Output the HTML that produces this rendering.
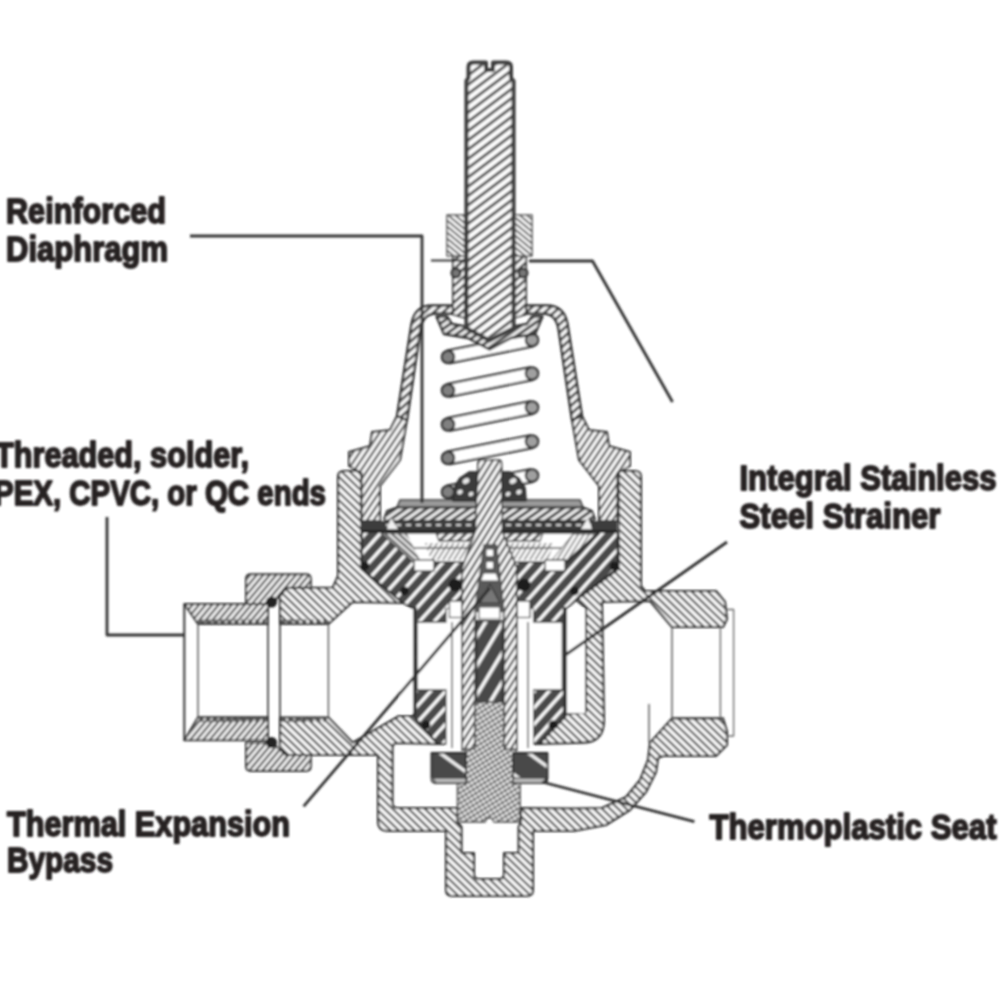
<!DOCTYPE html>
<html><head><meta charset="utf-8"><title>Valve cross-section</title>
<style>
html,body{margin:0;padding:0;background:#fff;}
body{width:1000px;height:1000px;overflow:hidden;font-family:"Liberation Sans",sans-serif;}
svg{display:block;}
text{font-family:"Liberation Sans",sans-serif;font-weight:bold;fill:#262324;stroke:#262324;stroke-width:1.8px;stroke-linejoin:round;}
</style></head><body>
<svg width="1000" height="1000" viewBox="0 0 1000 1000">
<defs>
<filter id="soft" x="0" y="0" width="1000" height="1000" filterUnits="userSpaceOnUse"><feGaussianBlur stdDeviation="0.95"/></filter>
<!-- body hatch "\" -->
<pattern id="hBody" width="10" height="5.6" patternUnits="userSpaceOnUse" patternTransform="rotate(44)"><rect width="10" height="5.6" fill="#fff"/><rect width="10" height="2.2" fill="#4a4a4a"/></pattern>
<!-- bonnet hatch "/" -->
<pattern id="hBon" width="10" height="5.5" patternUnits="userSpaceOnUse" patternTransform="rotate(-56)"><rect width="10" height="5.5" fill="#fff"/><rect width="10" height="2.3" fill="#555"/></pattern>
<!-- stem hatch "/" -->
<pattern id="hStem" width="10" height="7.4" patternUnits="userSpaceOnUse" patternTransform="rotate(-37)"><rect width="10" height="7.4" fill="#fff"/><rect width="10" height="3.0" fill="#555"/></pattern>
<!-- lower stem hatch -->
<pattern id="hStem2" width="10" height="5.6" patternUnits="userSpaceOnUse" patternTransform="rotate(-58)"><rect width="10" height="5.6" fill="#fff"/><rect width="10" height="2.3" fill="#505050"/></pattern>
<!-- dark cartridge -->
<pattern id="hDark" width="10" height="11" patternUnits="userSpaceOnUse" patternTransform="rotate(-48)"><rect width="10" height="11" fill="#4a4a4a"/><rect width="10" height="3.2" fill="#fff"/></pattern>
<pattern id="hDark2" width="10" height="15" patternUnits="userSpaceOnUse" patternTransform="rotate(-59)"><rect width="10" height="15" fill="#4a4a4a"/><rect width="10" height="3.4" fill="#fff"/></pattern>
<!-- cross hatch -->
<pattern id="hX" width="4.4" height="4.4" patternUnits="userSpaceOnUse" patternTransform="rotate(-32)"><rect width="4.4" height="4.4" fill="#fff"/><rect width="4.4" height="1.9" fill="#5a5a5a"/><rect width="1.3" height="4.4" fill="#777"/></pattern>
<!-- light hatch for tailpiece / nut -->
<pattern id="hLight" width="10" height="5.0" patternUnits="userSpaceOnUse" patternTransform="rotate(-50)"><rect width="10" height="5.0" fill="#fff"/><rect width="10" height="2.4" fill="#5a5a5a"/></pattern>
<!-- rope-like thin wall hatch -->
<pattern id="hRope" width="10" height="6.2" patternUnits="userSpaceOnUse" patternTransform="rotate(-42)"><rect width="10" height="6.2" fill="#fff"/><rect width="10" height="3.0" fill="#555"/></pattern>
<pattern id="hNut" width="10" height="4.6" patternUnits="userSpaceOnUse" patternTransform="rotate(40)"><rect width="10" height="4.6" fill="#fff"/><rect width="10" height="2.0" fill="#5c5c5c"/></pattern>
<pattern id="hFine" width="10" height="4.6" patternUnits="userSpaceOnUse" patternTransform="rotate(-58)"><rect width="10" height="4.6" fill="#fff"/><rect width="10" height="1.5" fill="#777"/></pattern>
<pattern id="hDark3" width="10" height="26" patternUnits="userSpaceOnUse" patternTransform="rotate(36)"><rect width="10" height="26" fill="#484848"/><rect y="11" width="10" height="3.2" fill="#f4f4f4"/></pattern>
<pattern id="hDia" width="10" height="6" patternUnits="userSpaceOnUse" patternTransform="rotate(-35)"><rect width="10" height="6" fill="#f4f4f4"/><rect width="10" height="3.1" fill="#4c4c4c"/></pattern>
<pattern id="hFineL" width="10" height="4.6" patternUnits="userSpaceOnUse" patternTransform="rotate(42)"><rect width="10" height="4.6" fill="#eee"/><rect width="10" height="2.2" fill="#555"/></pattern>
</defs>

<rect width="1000" height="1000" fill="#fff"/>
<g filter="url(#soft)">
<path d="M338,477 Q338,471 344,471 L361.5,471 L361.5,569 L403,603 L352.6,602 L328.4,624 L280,624 L280,596 L286,588 L332.8,587.5 L338,576 Z" fill="url(#hBody)" stroke="#2e2e2e" stroke-width="2.1" stroke-linejoin="round" />
<path d="M280,717.5 L328.4,717.5 L352.6,742.6 L399,716 L413,716 L438,744 L397,743 Q392.5,743 392.5,748 L392.5,803 Q392.5,808 398,808 L457.5,808 L457.5,822 L461.5,827 L461.5,853 L474,853 L474,874 Q474,879 479,879 L499,879 Q504,879 504,874 L504,853 L518.6,853 L518.6,827 L521,822 L521,808 L574,808.5 L602,808 L626,797 L640,780 L648,760 L650,742.6 L672,718.4 L723,718.4 L727,731.6 L727,745 L716,756 L663,756 L658,758 L656,772 L646,792 L630,810 L606,825 L574,831 L533,831 L533,890 Q533,896 527,896 L452,896 Q446,896 446,890 L446,831 L388,831 Q378,831 378,821 L378,755 L311,755 L286,755 L280,746 Z" fill="url(#hBody)" stroke="#2e2e2e" stroke-width="2.1" stroke-linejoin="round" />
<path d="M641,477 Q641,471 635,471 L618.5,471 L618.5,569 L576,600 L586,608 L586,712 L566,714 L565,716 L539,744 L584,742.6 Q604,742 604,720 L602,602 L650,601 L672,627 L723,627 L727,619 L725,602 L716,591 L645,591 L641,586 Z" fill="url(#hBody)" stroke="#2e2e2e" stroke-width="2.1" stroke-linejoin="round" />
<path d="M184.3,604 L268,604 L268,624 L198,624 Z" fill="url(#hLight)" stroke="#2e2e2e" stroke-width="1.9" stroke-linejoin="round" />
<path d="M184.3,740.4 L268,740.4 L268,717.3 L198,717.3 Z" fill="url(#hLight)" stroke="#2e2e2e" stroke-width="1.9" stroke-linejoin="round" />
<path d="M199,621.5 L267,621.5" fill="none" stroke="#5a5a5a" stroke-width="4.2" stroke-linejoin="round" stroke-dasharray="4.5 2.5"/>
<path d="M199,720 L267,720" fill="none" stroke="#5a5a5a" stroke-width="4.2" stroke-linejoin="round" stroke-dasharray="4.5 2.5"/>
<path d="M281,621.5 L327,621.5" fill="none" stroke="#5a5a5a" stroke-width="4.2" stroke-linejoin="round" stroke-dasharray="4.5 2.5"/>
<path d="M281,720 L327,720" fill="none" stroke="#5a5a5a" stroke-width="4.2" stroke-linejoin="round" stroke-dasharray="4.5 2.5"/>
<line x1="184.3" y1="604" x2="184.3" y2="740.4" stroke="#333" stroke-width="2.0" stroke-linecap="butt"/>
<line x1="198" y1="624" x2="198" y2="717.3" stroke="#555" stroke-width="1.4" stroke-linecap="butt"/>
<line x1="268" y1="604" x2="268" y2="740.4" stroke="#333" stroke-width="1.6" stroke-linecap="butt"/>
<line x1="280" y1="624" x2="280" y2="717.5" stroke="#333" stroke-width="1.6" stroke-linecap="butt"/>
<line x1="328.4" y1="624" x2="328.4" y2="717.5" stroke="#555" stroke-width="1.4" stroke-linecap="butt"/>
<path d="M246,579 Q246,574.3 251,574.3 L306,574.3 Q310.8,574.3 310.8,579 L310.8,587.5 L286,588 L272,604 L246,604 Z" fill="url(#hLight)" stroke="#2e2e2e" stroke-width="1.9" stroke-linejoin="round" />
<path d="M246,742.6 L272,742.6 L286,755 L310.8,755 L310.8,766 Q310.8,771 306,771 L251,771 Q246,771 246,766 Z" fill="url(#hLight)" stroke="#2e2e2e" stroke-width="1.9" stroke-linejoin="round" />
<circle cx="271.5" cy="602" r="5.6" fill="#222" stroke="none" stroke-width="0"/>
<circle cx="271.5" cy="742.5" r="5.6" fill="#222" stroke="none" stroke-width="0"/>
<line x1="672" y1="627" x2="672" y2="718.4" stroke="#555" stroke-width="1.4" stroke-linecap="butt"/>
<line x1="720.4" y1="627" x2="720.4" y2="718.4" stroke="#666" stroke-width="1.4" stroke-linecap="butt"/>
<path d="M727,609.5 L733.6,609.5 L733.6,736 L727,736" fill="none" stroke="#666" stroke-width="1.3" stroke-linejoin="round" />
<line x1="649" y1="704" x2="649" y2="743" stroke="#555" stroke-width="1.4" stroke-linecap="butt"/>
<path d="M397,416 L390,430 L372,432 L370,446 L349,452 L349,466 L361.5,473 L361.5,521 L380,521 L380,486 L400,460 L407,420 Z" fill="url(#hBon)" stroke="#2e2e2e" stroke-width="2.0" stroke-linejoin="round" />
<path d="M582.0,416 L589.0,430 L607.0,432 L609.0,446 L630.0,452 L630.0,466 L617.5,473 L617.5,521 L599.0,521 L599.0,486 L579.0,460 L572.0,420 Z" fill="url(#hBon)" stroke="#2e2e2e" stroke-width="2.0" stroke-linejoin="round" />
<path d="M453,305.5 L432,305.5 Q415,305.5 411.5,324 L397,416 L407,420 L420.5,329 Q423,313.5 436,313.5 L453,313.5 Z" fill="url(#hRope)" stroke="#2e2e2e" stroke-width="2.4" stroke-linejoin="round" />
<path d="M526.0,305.5 L547.0,305.5 Q564.0,305.5 567.5,324 L582.0,416 L572.0,420 L558.5,329 Q556.0,313.5 543.0,313.5 L526.0,313.5 Z" fill="url(#hRope)" stroke="#2e2e2e" stroke-width="2.4" stroke-linejoin="round" />
<path d="M453,256 L465,256 L465,318 L453,314.5 Z" fill="url(#hRope)" stroke="#2e2e2e" stroke-width="1.8" stroke-linejoin="round" />
<path d="M526.0,256 L514.0,256 L514.0,318 L526.0,314.5 Z" fill="url(#hRope)" stroke="#2e2e2e" stroke-width="1.8" stroke-linejoin="round" />
<path d="M447,215 L465,215 L465,256 L447,256 Z" fill="url(#hNut)" stroke="#555" stroke-width="1.5" stroke-linejoin="round" />
<path d="M532.0,215 L514.0,215 L514.0,256 L532.0,256 Z" fill="url(#hNut)" stroke="#555" stroke-width="1.5" stroke-linejoin="round" />
<circle cx="456" cy="273" r="4.4" fill="#777" stroke="#2e2e2e" stroke-width="2.2"/>
<circle cx="523.0" cy="273" r="4.4" fill="#777" stroke="#2e2e2e" stroke-width="2.2"/>
<path d="M449.3,363.4 L533.3,346.4 L530.7,333.6 L446.7,350.6 Z" fill="#fff" stroke="none" stroke-width="0" stroke-linejoin="round" />
<line x1="449.3" y1="363.4" x2="533.3" y2="346.4" stroke="#3a3a3a" stroke-width="2.4" stroke-linecap="butt"/>
<line x1="446.7" y1="350.6" x2="530.7" y2="333.6" stroke="#3a3a3a" stroke-width="2.4" stroke-linecap="butt"/>
<path d="M449.3,396.9 L533.3,379.9 L530.7,367.1 L446.7,384.1 Z" fill="#fff" stroke="none" stroke-width="0" stroke-linejoin="round" />
<line x1="449.3" y1="396.9" x2="533.3" y2="379.9" stroke="#3a3a3a" stroke-width="2.4" stroke-linecap="butt"/>
<line x1="446.7" y1="384.1" x2="530.7" y2="367.1" stroke="#3a3a3a" stroke-width="2.4" stroke-linecap="butt"/>
<path d="M449.3,430.9 L533.3,413.9 L530.7,401.1 L446.7,418.1 Z" fill="#fff" stroke="none" stroke-width="0" stroke-linejoin="round" />
<line x1="449.3" y1="430.9" x2="533.3" y2="413.9" stroke="#3a3a3a" stroke-width="2.4" stroke-linecap="butt"/>
<line x1="446.7" y1="418.1" x2="530.7" y2="401.1" stroke="#3a3a3a" stroke-width="2.4" stroke-linecap="butt"/>
<path d="M449.3,464.4 L533.3,447.9 L530.7,435.1 L446.7,451.6 Z" fill="#fff" stroke="none" stroke-width="0" stroke-linejoin="round" />
<line x1="449.3" y1="464.4" x2="533.3" y2="447.9" stroke="#3a3a3a" stroke-width="2.4" stroke-linecap="butt"/>
<line x1="446.7" y1="451.6" x2="530.7" y2="435.1" stroke="#3a3a3a" stroke-width="2.4" stroke-linecap="butt"/>
<path d="M449.3,498.4 L533.3,481.9 L530.7,469.1 L446.7,485.6 Z" fill="#fff" stroke="none" stroke-width="0" stroke-linejoin="round" />
<line x1="449.3" y1="498.4" x2="533.3" y2="481.9" stroke="#3a3a3a" stroke-width="2.4" stroke-linecap="butt"/>
<line x1="446.7" y1="485.6" x2="530.7" y2="469.1" stroke="#3a3a3a" stroke-width="2.4" stroke-linecap="butt"/>
<circle cx="448" cy="357" r="6.2" fill="#808080" stroke="#2e2e2e" stroke-width="2.2"/>
<circle cx="448" cy="390.5" r="6.2" fill="#808080" stroke="#2e2e2e" stroke-width="2.2"/>
<circle cx="448" cy="424.5" r="6.2" fill="#808080" stroke="#2e2e2e" stroke-width="2.2"/>
<circle cx="448" cy="458" r="6.2" fill="#808080" stroke="#2e2e2e" stroke-width="2.2"/>
<circle cx="448" cy="492" r="6.2" fill="#808080" stroke="#2e2e2e" stroke-width="2.2"/>
<circle cx="532" cy="340" r="6.2" fill="#a0a0a0" stroke="#2e2e2e" stroke-width="2.2"/>
<circle cx="532" cy="373.5" r="6.2" fill="#a0a0a0" stroke="#2e2e2e" stroke-width="2.2"/>
<circle cx="532" cy="407.5" r="6.2" fill="#a0a0a0" stroke="#2e2e2e" stroke-width="2.2"/>
<circle cx="532" cy="441.5" r="6.2" fill="#a0a0a0" stroke="#2e2e2e" stroke-width="2.2"/>
<circle cx="532" cy="475.5" r="6.2" fill="#a0a0a0" stroke="#2e2e2e" stroke-width="2.2"/>
<path d="M436.5,316.5 L444,334 L468,338 L489.5,349.5 L511,338 L535,334 L542.5,316.5 L532,316.5 L527,324 L511,327 L489.5,338 L468,327 L452,324 L447,316.5 Z" fill="url(#hDia)" stroke="#2e2e2e" stroke-width="2.3" stroke-linejoin="round" />
<path d="M468.5,67 Q468.5,62.5 473,62.5 L486,62.5 L486,70 L493,70 L493,62.5 L506.5,62.5 Q511,62.5 511,67 L511,78 L513.6,81 L513.6,328 L489.5,340.5 L466.4,328 L466.4,81 L468.5,78 Z" fill="url(#hStem)" stroke="#3c3c3c" stroke-width="4.0" stroke-linejoin="round" />
<path d="M362,532 L617.5,532 L617.5,568 L576,600 L566,609 L566,716 L539,744 L533,744 L533,609 L452,609 L446,609 L446,744 L438,744 L413.5,716 L413.5,609 L403,603 L362,569 Z" fill="url(#hDark)" stroke="#2a2a2a" stroke-width="1.8" stroke-linejoin="round" />
<path d="M381,533 L598,533 L566,562 L413,562 Z" fill="#fff" stroke="#333" stroke-width="1.4" stroke-linejoin="round" />
<path d="M436,533 L543,533 L540,541 L439,541 Z" fill="url(#hRope)" stroke="#444" stroke-width="1.3" stroke-linejoin="round" />
<path d="M425,543 L554,543 L548,560 L431,560 Z" fill="url(#hFine)" stroke="none" stroke-width="0" stroke-linejoin="round" />
<line x1="398" y1="548" x2="581" y2="548" stroke="#555" stroke-width="1.3" stroke-linecap="butt"/>
<path d="M383,534 L407,534 L420,560 L412,560 Z" fill="url(#hFineL)" stroke="none" stroke-width="0" stroke-linejoin="round" />
<path d="M573,534 L596,534 L567,560 L552,560 Z" fill="url(#hFine)" stroke="#555" stroke-width="1.0" stroke-linejoin="round" />
<line x1="599" y1="533" x2="566" y2="563" stroke="#333" stroke-width="3.0" stroke-linecap="butt"/>
<rect x="414" y="560" width="20" height="11" rx="0" fill="#fff" stroke="#333" stroke-width="1.2"/>
<rect x="545" y="560" width="20" height="11" rx="0" fill="#fff" stroke="#333" stroke-width="1.2"/>
<rect x="417" y="622" width="34.5" height="68" rx="0" fill="#fff" stroke="#333" stroke-width="1.5"/>
<rect x="528.5" y="622" width="34" height="68" rx="0" fill="#fff" stroke="#333" stroke-width="1.5"/>
<rect x="446.5" y="609" width="17" height="139" rx="0" fill="#fff" stroke="none" stroke-width="1.6"/>
<rect x="516" y="609" width="17" height="139" rx="0" fill="#fff" stroke="none" stroke-width="1.6"/>
<line x1="452" y1="622" x2="452" y2="748" stroke="#444" stroke-width="1.3" stroke-linecap="butt"/>
<line x1="528" y1="622" x2="528" y2="748" stroke="#444" stroke-width="1.3" stroke-linecap="butt"/>
<rect x="449.5" y="601" width="13.5" height="16.5" rx="0" fill="#fff" stroke="#333" stroke-width="1.2"/>
<rect x="516.5" y="601" width="13.5" height="16.5" rx="0" fill="#fff" stroke="#333" stroke-width="1.2"/>
<rect x="400" y="609" width="13.5" height="104" rx="0" fill="#fff" stroke="none" stroke-width="1.6"/>
<rect x="567" y="609" width="18" height="104" rx="0" fill="#fff" stroke="none" stroke-width="1.6"/>
<line x1="415" y1="607" x2="415" y2="716" stroke="#363636" stroke-width="3.6" stroke-linecap="butt"/>
<line x1="564.6" y1="607" x2="564.6" y2="716" stroke="#363636" stroke-width="3.6" stroke-linecap="butt"/>
<circle cx="365" cy="566" r="4.4" fill="#1c1c1c" stroke="none" stroke-width="0"/>
<circle cx="614.0" cy="566" r="4.4" fill="#1c1c1c" stroke="none" stroke-width="0"/>
<circle cx="404.5" cy="591" r="4.4" fill="#1c1c1c" stroke="none" stroke-width="0"/>
<circle cx="574.5" cy="591" r="4.4" fill="#1c1c1c" stroke="none" stroke-width="0"/>
<circle cx="426" cy="725" r="4.4" fill="#1c1c1c" stroke="none" stroke-width="0"/>
<circle cx="553.0" cy="725" r="4.4" fill="#1c1c1c" stroke="none" stroke-width="0"/>
<circle cx="455" cy="585" r="6.5" fill="#1c1c1c" stroke="none" stroke-width="0"/>
<circle cx="524.0" cy="585" r="6.5" fill="#1c1c1c" stroke="none" stroke-width="0"/>
<path d="M400,500 L580,500 L583,507.5 L397,507.5 Z" fill="#9a9a9a" stroke="#333" stroke-width="1.6" stroke-linejoin="round" />
<path d="M384,519 L387,511 L397,507.5 L583,507.5 L592,511 L595,519 L592,521 L387,521 Z" fill="url(#hDia)" stroke="#2e2e2e" stroke-width="2.0" stroke-linejoin="round" />
<path d="M362,525.5 L617,525.5" fill="none" stroke="#3c3c3c" stroke-width="9" stroke-linejoin="round" />
<path d="M386,525 L593,525" fill="none" stroke="#cfcfcf" stroke-width="2.2" stroke-linejoin="round" stroke-dasharray="5 5"/>
<path d="M391,518 L398,529 L387,529 Z" fill="#f2f2f2" stroke="none" stroke-width="0" stroke-linejoin="round" />
<path d="M588.0,518 L581.0,529 L592.0,529 Z" fill="#f2f2f2" stroke="none" stroke-width="0" stroke-linejoin="round" />
<path d="M362,531 L617,531" fill="none" stroke="#262626" stroke-width="2.6" stroke-linejoin="round" />
<path d="M453,500 L454,488 L460,478 L469,472 L478,472 L478,501 L453,501 Z" fill="#3a3a3a" stroke="#2a2a2a" stroke-width="1.5" stroke-linejoin="round" />
<path d="M526.0,500 L525.0,488 L519.0,478 L510.0,472 L501.0,472 L501.0,501 L526.0,501 Z" fill="#3a3a3a" stroke="#2a2a2a" stroke-width="1.5" stroke-linejoin="round" />
<ellipse cx="460" cy="492" rx="2.8" ry="2.2" fill="#e8e8e8" transform="rotate(-30 460 492)"/>
<ellipse cx="466" cy="481" rx="3.6" ry="2.6" fill="#e8e8e8" transform="rotate(-30 466 481)"/>
<ellipse cx="471" cy="494" rx="2.6" ry="2.0" fill="#e8e8e8" transform="rotate(-30 471 494)"/>
<ellipse cx="519" cy="492" rx="2.8" ry="2.2" fill="#e8e8e8" transform="rotate(-30 519 492)"/>
<ellipse cx="513" cy="481" rx="3.6" ry="2.6" fill="#e8e8e8" transform="rotate(-30 513 481)"/>
<ellipse cx="508" cy="494" rx="2.6" ry="2.0" fill="#e8e8e8" transform="rotate(-30 508 494)"/>
<path d="M478,463 Q478,460 481,460 L498.5,460 Q501.5,460 501.5,463 L502.6,532 L517,568 L517,750 L504,750 L504,612 L496,545 L484,545 L475,612 L475,750 L462,750 L462,568 L475,532 Z" fill="url(#hStem2)" stroke="#333" stroke-width="1.6" stroke-linejoin="round" />
<path d="M484,545 L496,545 L504,612 L475,612 Z" fill="#5a5a5a" stroke="none" stroke-width="0" stroke-linejoin="round" />
<rect x="486" y="549" width="7.5" height="7.5" rx="0" fill="#fff" stroke="#444" stroke-width="1"/>
<rect x="486" y="561.5" width="7.5" height="7.5" rx="0" fill="#fff" stroke="#444" stroke-width="1"/>
<path d="M483.5,573 L496,573 L499,581 L480.5,581 Z" fill="#fff" stroke="#444" stroke-width="1" stroke-linejoin="round" />
<path d="M490,584 L500,603 L480,603 Z" fill="#777" stroke="#333" stroke-width="1.2" stroke-linejoin="round" />
<path d="M479,607 L500,607 L500,619 L479,619 Z" fill="#fff" stroke="#444" stroke-width="1.2" stroke-linejoin="round" />
<path d="M476.5,621 L502.5,621 L502.5,702 L476.5,702 Z" fill="url(#hDark2)" stroke="#2a2a2a" stroke-width="1.6" stroke-linejoin="round" />
<path d="M475,702 L504,702 L504,749 L515,749 L515,783 L520,783 L520,822 L494,822 L492,818 L487,818 L485,822 L457.5,822 L457.5,783 L466,783 L466,749 L475,749 Z" fill="url(#hX)" stroke="#444" stroke-width="1.5" stroke-linejoin="round" />
<path d="M431.5,753 L466,753 L466,783 L436,783 Q431.5,783 431.5,778 Z" fill="url(#hDark3)" stroke="#2a2a2a" stroke-width="1.8" stroke-linejoin="round" />
<path d="M547.5,753 L513.0,753 L513.0,783 L543.0,783 Q547.5,783 547.5,778 Z" fill="url(#hDark3)" stroke="#2a2a2a" stroke-width="1.8" stroke-linejoin="round" />
<path d="M433,778 L466,778 L466,783 L436,783 Z" fill="#bbb" stroke="#333" stroke-width="1.2" stroke-linejoin="round" />
<path d="M546.0,778 L513.0,778 L513.0,783 L543.0,783 Z" fill="#bbb" stroke="#333" stroke-width="1.2" stroke-linejoin="round" />
<path d="M190,236 L422,236 L422,503" fill="none" stroke="#303030" stroke-width="2.8" stroke-linejoin="round" />
<line x1="431" y1="260.5" x2="465" y2="260.5" stroke="#303030" stroke-width="2.2" stroke-linecap="butt"/>
<path d="M529,261 L592.5,261 L672.5,402" fill="none" stroke="#303030" stroke-width="2.8" stroke-linejoin="round" />
<path d="M107,517 L107,635 L184,635" fill="none" stroke="#303030" stroke-width="2.8" stroke-linejoin="round" />
<line x1="727" y1="542" x2="564" y2="656" stroke="#303030" stroke-width="2.8" stroke-linecap="butt"/>
<line x1="303.6" y1="806.4" x2="490" y2="588" stroke="#303030" stroke-width="2.8" stroke-linecap="butt"/>
<line x1="694.4" y1="821.6" x2="542" y2="782" stroke="#303030" stroke-width="2.8" stroke-linecap="butt"/>
<text x="6" y="223" font-size="34.6" textLength="160" lengthAdjust="spacingAndGlyphs">Reinforced</text>
<text x="6" y="261" font-size="34.6" textLength="162" lengthAdjust="spacingAndGlyphs">Diaphragm</text>
<text x="-5" y="466.7" font-size="34.6" textLength="254" lengthAdjust="spacingAndGlyphs">Threaded, solder,</text>
<text x="-6" y="504.8" font-size="34.6" textLength="332" lengthAdjust="spacingAndGlyphs">PEX, CPVC, or QC ends</text>
<text x="739.5" y="489.5" font-size="34.6" textLength="257" lengthAdjust="spacingAndGlyphs">Integral Stainless</text>
<text x="739.5" y="528" font-size="34.6" textLength="201" lengthAdjust="spacingAndGlyphs">Steel Strainer</text>
<text x="7" y="836" font-size="34.6" textLength="283" lengthAdjust="spacingAndGlyphs">Thermal Expansion</text>
<text x="7" y="872.4" font-size="34.6" textLength="106" lengthAdjust="spacingAndGlyphs">Bypass</text>
<text x="709.5" y="839.2" font-size="34.6" textLength="287" lengthAdjust="spacingAndGlyphs">Thermoplastic Seat</text>
</g>
</svg>
</body></html>
